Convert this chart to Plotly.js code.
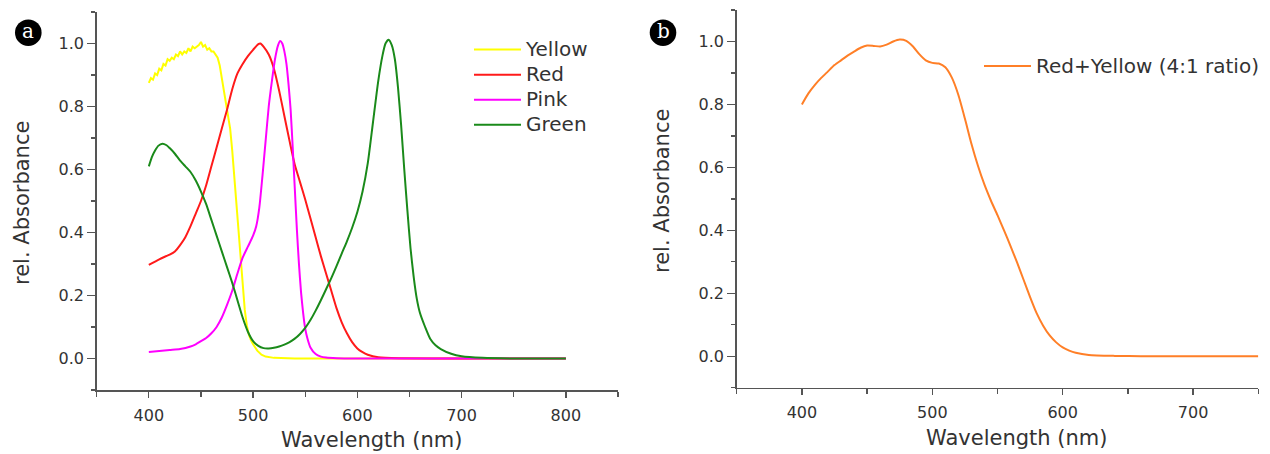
<!DOCTYPE html>
<html>
<head>
<meta charset="utf-8">
<script src="https://cdn.plot.ly/plotly-3.0.1.min.js"></script>
<style>html,body{margin:0;padding:0;background:#fff;}#chart{width:1270px;height:454px;}</style>
</head>
<body>
<div id="chart"></div>
<script>
// ---- data ----
const yellowX = [400,402,404,406,408,410,412,414,416,418,420,422,424,426,428,430,432,434,436,438,440,442,444,446,448,450,452,454,456,458,460,462,464,466,468,470,472,474,476,478,480,482,484,486,488,490,492,494,496,498,500,504,508,512,520,540,600,700,800];
const yellowY = [0.875,0.89,0.885,0.905,0.90,0.92,0.915,0.935,0.93,0.95,0.945,0.955,0.95,0.965,0.96,0.975,0.965,0.975,0.97,0.985,0.975,0.99,0.985,0.99,0.995,1.005,0.99,0.995,0.98,0.985,0.975,0.975,0.965,0.955,0.93,0.89,0.85,0.815,0.78,0.73,0.66,0.575,0.49,0.40,0.31,0.225,0.155,0.105,0.075,0.058,0.045,0.025,0.012,0.006,0.002,0,0,0,0];

const redX = [400,410,420,425,430,435,440,445,450,455,460,465,470,475,480,485,490,495,500,505,507,510,515,520,525,530,535,540,545,550,555,560,565,570,575,580,585,590,595,600,605,610,620,640,700,800];
const redY = [0.297,0.315,0.33,0.34,0.36,0.385,0.42,0.46,0.50,0.55,0.61,0.67,0.73,0.79,0.855,0.905,0.935,0.96,0.98,0.998,1.0,0.99,0.965,0.92,0.85,0.77,0.69,0.615,0.56,0.505,0.445,0.385,0.325,0.27,0.215,0.16,0.115,0.08,0.052,0.032,0.02,0.012,0.004,0.001,0,0];

const pinkX = [400,410,420,430,440,445,450,455,460,465,470,475,480,485,490,495,500,503,506,509,512,515,518,521,524,526,528,530,532,534,536,538,540,542,544,546,548,550,552,555,560,565,570,580,600,800];
const pinkY = [0.021,0.024,0.027,0.03,0.038,0.045,0.055,0.065,0.08,0.10,0.13,0.17,0.215,0.27,0.32,0.355,0.39,0.42,0.48,0.58,0.69,0.80,0.88,0.95,0.995,1.008,1.0,0.975,0.935,0.87,0.79,0.67,0.54,0.41,0.30,0.21,0.145,0.095,0.065,0.035,0.014,0.006,0.003,0.001,0,0];

const greenX = [400,403,406,409,413,417,420,425,430,435,440,445,450,455,460,465,470,475,480,485,490,495,500,505,510,515,520,525,530,535,540,545,550,555,560,565,570,575,580,585,590,595,600,605,610,615,620,624,627,630,633,636,639,642,645,648,651,654,657,660,665,670,675,680,690,700,720,750,800];
const greenY = [0.61,0.64,0.66,0.675,0.682,0.677,0.668,0.65,0.628,0.61,0.592,0.565,0.53,0.49,0.44,0.39,0.34,0.29,0.24,0.185,0.13,0.085,0.055,0.04,0.033,0.032,0.034,0.038,0.044,0.052,0.063,0.078,0.097,0.122,0.152,0.185,0.22,0.255,0.293,0.333,0.372,0.415,0.465,0.53,0.62,0.75,0.88,0.96,1.0,1.012,0.995,0.95,0.86,0.74,0.6,0.47,0.35,0.26,0.19,0.145,0.10,0.062,0.042,0.03,0.015,0.007,0.002,0,0];

const orangeX = [400,405,410,415,420,425,430,435,440,445,450,455,460,465,470,475,480,485,490,495,500,505,510,515,520,525,530,535,540,545,550,555,560,565,570,575,580,585,590,595,600,605,610,620,640,660,750];
const orangeY = [0.80,0.835,0.862,0.885,0.905,0.925,0.94,0.955,0.968,0.98,0.987,0.986,0.984,0.99,1.0,1.006,1.002,0.985,0.96,0.94,0.932,0.93,0.918,0.885,0.83,0.755,0.675,0.605,0.545,0.494,0.448,0.40,0.35,0.298,0.243,0.188,0.137,0.097,0.066,0.044,0.028,0.018,0.011,0.004,0.001,0,0];

const seriesNames = ["Yellow","Red","Pink","Green","Red+Yellow (4:1 ratio)"];
const xTitle = "Wavelength (nm)";
const yTitle = "rel. Absorbance";
const panelLabels = ["a","b"];

// ---- layout helpers ----
const W = 1270, H = 454;
const px = v => v / W;
const py = v => (H - v) / H;
const FONT = "DejaVu Sans";
const AX = "#555555";
const TXT = "#333333";
const legName = s => '<span style="font-size:20px">' + s + '</span>';

function line(x, y, name, color, leg, xa, ya, shape) {
  return {x: x, y: y, name: legName(name), type: "scatter", mode: "lines",
    line: {color: color, width: 2, shape: shape || "spline", smoothing: 0.6},
    xaxis: xa, yaxis: ya, legend: leg, hoverinfo: "skip"};
}

const traces = [
  line(yellowX, yellowY, seriesNames[0], "#ffff00", "legend", "x", "y", "linear"),
  line(redX, redY, seriesNames[1], "#ff1a1a", "legend", "x", "y"),
  line(pinkX, pinkY, seriesNames[2], "#ff00ff", "legend", "x", "y"),
  line(greenX, greenY, seriesNames[3], "#1a8a1a", "legend", "x", "y"),
  line(orangeX, orangeY, seriesNames[4], "#ff7f27", "legend2", "x2", "y2")
];

function xaxis(domain, range, anchor) {
  return {domain: domain, range: range, anchor: anchor, dtick: 100, tick0: 0,
    showgrid: false, zeroline: false, showline: true, linecolor: AX, linewidth: 1.5,
    ticks: "outside", ticklen: 6, tickwidth: 1.3, tickcolor: AX,
    minor: {dtick: 50, tick0: 0, ticks: "outside", ticklen: 5, tickwidth: 1.3, tickcolor: AX},
    tickfont: {family: FONT, size: 16, color: TXT}, ticklabelstandoff: 4};
}
function yaxis(domain, anchor) {
  return {domain: domain, range: [-0.1, 1.1], anchor: anchor, dtick: 0.2, tick0: 0,
    tickformat: ".1f", showgrid: false, zeroline: false, showline: true,
    linecolor: AX, linewidth: 1.5, ticks: "outside", ticklen: 8, tickwidth: 1.3, tickcolor: AX,
    minor: {dtick: 0.1, tick0: 0, ticks: "outside", ticklen: 4, tickwidth: 1.3, tickcolor: AX},
    tickfont: {family: FONT, size: 16, color: TXT}};
}

const annotations = [
  {text: xTitle, x: px(371), y: py(440), xref: "paper", yref: "paper", showarrow: false,
   font: {family: FONT, size: 21, color: TXT}, xanchor: "center", yanchor: "middle"},
  {text: xTitle, x: px(1017), y: py(438), xref: "paper", yref: "paper", showarrow: false,
   font: {family: FONT, size: 21, color: TXT}, xanchor: "center", yanchor: "middle"},
  {text: yTitle, x: px(22), y: py(203), xref: "paper", yref: "paper", showarrow: false, textangle: -90,
   font: {family: FONT, size: 21, color: TXT}, xanchor: "center", yanchor: "middle"},
  {text: yTitle, x: px(662), y: py(191), xref: "paper", yref: "paper", showarrow: false, textangle: -90,
   font: {family: FONT, size: 21, color: TXT}, xanchor: "center", yanchor: "middle"},
  {text: panelLabels[0], x: px(28.3), y: py(31), xref: "paper", yref: "paper", showarrow: false,
   font: {family: "DejaVu Serif", size: 20, color: "#ffffff"}, xanchor: "center", yanchor: "middle"},
  {text: panelLabels[1], x: px(663), y: py(31), xref: "paper", yref: "paper", showarrow: false,
   font: {family: "DejaVu Serif", size: 20, color: "#ffffff"}, xanchor: "center", yanchor: "middle"}
];

const shapes = [
  {type: "circle", xref: "paper", yref: "paper", x0: px(15), x1: px(41.6), y0: py(46), y1: py(19.4),
   fillcolor: "#000000", line: {width: 0}},
  {type: "circle", xref: "paper", yref: "paper", x0: px(649.7), x1: px(676.3), y0: py(46), y1: py(19.4),
   fillcolor: "#000000", line: {width: 0}}
];

const layout = {
  width: W, height: H, margin: {l: 0, r: 0, t: 0, b: 0},
  paper_bgcolor: "#ffffff", plot_bgcolor: "#ffffff",
  font: {family: FONT, color: TXT},
  xaxis: xaxis([px(96.7), px(618)], [350, 850], "y"),
  yaxis: yaxis([py(390), py(12)], "x"),
  xaxis2: xaxis([px(736.7), px(1258.3)], [350, 750], "y2"),
  yaxis2: yaxis([py(387.7), py(10)], "x2"),
  legend: {x: px(469), y: py(32), xanchor: "left", yanchor: "top", bgcolor: "rgba(0,0,0,0)",
    font: {family: FONT, size: 17, color: TXT}, tracegroupgap: 0, borderwidth: 0, itemwidth: 47},
  legend2: {x: px(979), y: py(48.5), xanchor: "left", yanchor: "top", bgcolor: "rgba(0,0,0,0)",
    font: {family: FONT, size: 17, color: TXT}, borderwidth: 0, itemwidth: 47},
  showlegend: true,
  annotations: annotations,
  shapes: shapes
};

Plotly.newPlot("chart", traces, layout, {staticPlot: true, displayModeBar: false});
</script>
</body>
</html>
